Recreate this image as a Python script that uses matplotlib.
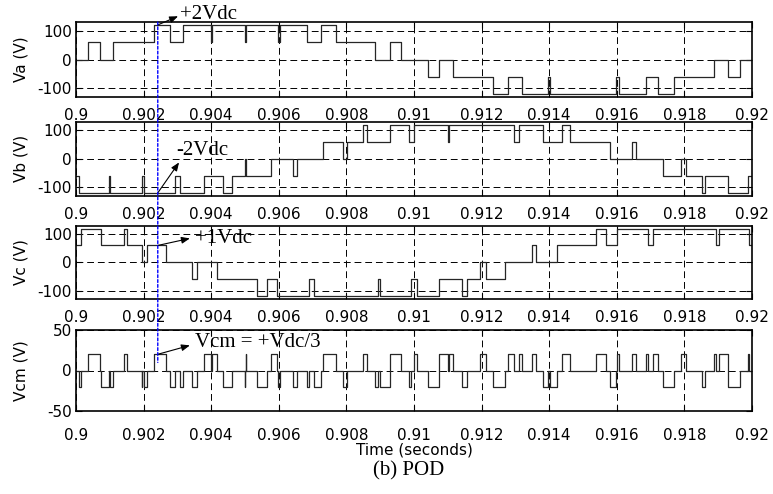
import matplotlib.pyplot as plt
from matplotlib.patches import ConnectionPatch

plt.rcParams['axes.unicode_minus'] = False

# phase voltages (s, V) -- step waveforms, value holds until next time
va_t = [0.90000, 0.90036, 0.90071, 0.90110, 0.90232, 0.90278, 0.90316, 0.90399, 0.90403, 0.90499,
        0.90502, 0.90599, 0.90604, 0.90684, 0.90725, 0.90768, 0.90885, 0.90929, 0.90961, 0.91041,
        0.91074, 0.91116, 0.91235, 0.91277, 0.91319, 0.91396, 0.91402, 0.91597, 0.91607, 0.91686,
        0.91723, 0.91769, 0.91889, 0.91930, 0.91965]
va_v = [0, 60, 0, 60, 120, 60, 120, 60, 120, 60,
        120, 60, 120, 60, 120, 60, 0, 60, 0, -60,
        0, -60, -120, -60, -120, -60, -120, -60, -120, -60,
        -120, -60, 0, -60, 0]

vb_t = [0.90000, 0.90010, 0.90098, 0.90102, 0.90196, 0.90200, 0.90293, 0.90308, 0.90379, 0.90434,
        0.90461, 0.90500, 0.90504, 0.90576, 0.90643, 0.90653, 0.90732, 0.90789, 0.90803, 0.90850,
        0.90860, 0.90929, 0.90986, 0.91000, 0.91100, 0.91104, 0.91297, 0.91312, 0.91383, 0.91437,
        0.91462, 0.91580, 0.91644, 0.91657, 0.91736, 0.91790, 0.91805, 0.91851, 0.91861, 0.91930,
        0.91989]
vb_v = [-60, -120, -60, -120, -60, -120, -60, -120, -60, -120,
        -60, 0, -60, 0, -60, 0, 60, 0, 60, 120,
        60, 120, 60, 120, 60, 120, 60, 120, 60, 120,
        60, 0, 60, 0, -60, 0, -60, -120, -60, -120,
        -60]

vc_t = [0.90000, 0.90014, 0.90073, 0.90142, 0.90150, 0.90194, 0.90211, 0.90265, 0.90344, 0.90357,
        0.90416, 0.90535, 0.90565, 0.90594, 0.90688, 0.90705, 0.90893, 0.90900, 0.90990, 0.91010,
        0.91075, 0.91141, 0.91156, 0.91195, 0.91212, 0.91270, 0.91350, 0.91360, 0.91422, 0.91538,
        0.91568, 0.91600, 0.91692, 0.91707, 0.91895, 0.91903, 0.91992]
vc_v = [60, 120, 60, 120, 60, 0, 60, 0, -60, 0,
        -60, -120, -60, -120, -60, -120, -60, -120, -60, -120,
        -60, -120, -60, 0, -60, 0, 60, 0, 60, 120,
        60, 120, 60, 120, 60, 120, 60]

vcm_t = [0.90000, 0.90010, 0.90014, 0.90036, 0.90071, 0.90073, 0.90098, 0.90102, 0.90110, 0.90142,
         0.90150, 0.90194, 0.90196, 0.90200, 0.90211, 0.90232, 0.90265, 0.90278, 0.90293, 0.90308,
         0.90316, 0.90344, 0.90357, 0.90379, 0.90399, 0.90403, 0.90416, 0.90434, 0.90461, 0.90499,
         0.90500, 0.90502, 0.90504, 0.90535, 0.90565, 0.90576, 0.90594, 0.90599, 0.90604, 0.90643,
         0.90653, 0.90684, 0.90688, 0.90705, 0.90725, 0.90732, 0.90768, 0.90789, 0.90803, 0.90850,
         0.90860, 0.90885, 0.90893, 0.90900, 0.90929, 0.90961, 0.90986, 0.90990, 0.91000, 0.91010,
         0.91041, 0.91074, 0.91075, 0.91100, 0.91104, 0.91116, 0.91141, 0.91156, 0.91195, 0.91212,
         0.91235, 0.91270, 0.91277, 0.91297, 0.91312, 0.91319, 0.91350, 0.91360, 0.91383, 0.91396,
         0.91402, 0.91422, 0.91437, 0.91462, 0.91538, 0.91568, 0.91580, 0.91597, 0.91600, 0.91607,
         0.91644, 0.91657, 0.91686, 0.91692, 0.91707, 0.91723, 0.91736, 0.91769, 0.91790, 0.91805,
         0.91851, 0.91861, 0.91889, 0.91895, 0.91903, 0.91930, 0.91965, 0.91989, 0.91992]
vcm_v = [0, -20, 0, 20, 0, -20, 0, -20, 0, 20,
         0, -20, 0, -20, 0, 20, 0, -20, 0, -20,
         0, -20, 0, 20, 0, 20, 0, -20, 0, -20,
         0, 20, 0, -20, 0, 20, 0, -20, 0, -20,
         0, -20, 0, -20, 0, 20, 0, -20, 0, 20,
         0, -20, 0, -20, 20, 0, -20, 0, 20, 0,
         -20, 0, 20, 0, 20, 0, -20, 0, 20, 0,
         -20, 0, 20, 0, 20, 0, 20, 0, -20, 0,
         -20, 0, 20, 0, 20, 0, -20, 0, 20, 0,
         20, 0, 20, 0, 20, 0, -20, 0, 20, 0,
         -20, 0, 20, 0, 20, -20, 0, 20, 0]

t_end = 0.92
xticks = [0.9, 0.902, 0.904, 0.906, 0.908, 0.91, 0.912, 0.914, 0.916, 0.918, 0.92]
xtick_labels = ['0.9', '0.902', '0.904', '0.906', '0.908', '0.91', '0.912', '0.914', '0.916', '0.918', '0.92']
ylabels = ['Va (V)', 'Vb (V)', 'Vc (V)', 'Vcm (V)']

# marked instant and annotations
t_mark = 0.90242
notes = [
    # text, arrow tail (t, v), arrow head (t, v), text pos (t, v)
    ('+2Vdc', (t_mark, 120), (0.90302, 150), (0.90307, 157)),
    ('-2Vdc', (t_mark, -120), (0.90305, -13), (0.90298, 28)),
    ('+1Vdc', (t_mark, 60), (0.90337, 85), (0.90352, 85)),
    ('Vcm = +Vdc/3', (t_mark, 20), (0.90337, 31), (0.90352, 35)),
]

fig = plt.figure(figsize=(7.73, 4.94), dpi=100)
rects = [
    [0.0983, 0.8036, 0.8745, 0.1518],
    [0.0983, 0.6038, 0.8745, 0.1498],
    [0.0983, 0.3947, 0.8745, 0.1484],
    [0.0983, 0.1680, 0.8745, 0.1640],
]
series = [(va_t, va_v), (vb_t, vb_v), (vc_t, vc_v), (vcm_t, vcm_v)]
axes = []
for i, (r, (t, v)) in enumerate(zip(rects, series)):
    ax = fig.add_axes(r)
    ax.step(list(t) + [t_end], list(v) + [v[-1]], where='post', color='0.15', lw=0.9)
    ax.set_xlim(0.9, 0.92)
    if i < 3:
        ax.set_ylim(-130, 130)
        ax.set_yticks([-100, 0, 100])
    else:
        ax.set_ylim(-50, 50)
        ax.set_yticks([-50, 0, 50])
    ax.set_xticks(xticks)
    ax.set_xticklabels(xtick_labels)
    ax.grid(True, color='k', linestyle=(0, (7, 4)), linewidth=0.7)
    ax.tick_params(direction='in', top=True, right=True, length=4, width=0.8,
                   labelsize=11, pad=8 if i < 3 else 12)
    ax.tick_params(axis='y', pad=3)
    for s in ax.spines.values():
        s.set_linewidth(1.2)
    ax.set_ylabel(ylabels[i], fontsize=11)
    ax.yaxis.set_label_coords(-0.07, 0.5)
    axes.append(ax)

# blue dashed marker across all panels
con = ConnectionPatch(xyA=(t_mark, 130), coordsA=axes[0].transData,
                      xyB=(t_mark, 10), coordsB=axes[3].transData,
                      color='blue', linestyle=(0, (2, 1.5)), lw=1.0)
fig.add_artist(con)

for ax, (txt, tail, head, pos) in zip(axes, notes):
    ax.annotate('', xy=head, xytext=tail, annotation_clip=False,
                arrowprops=dict(arrowstyle='-|>,head_length=0.5,head_width=0.2',
                                color='k', lw=0.8, shrinkA=0, shrinkB=0))
    ax.text(pos[0], pos[1], txt, fontsize=15, family='Liberation Serif',
            ha='left', va='center', clip_on=False)

fig.text(0.536, 1 - 450 / 494, 'Time (seconds)', ha='center', va='center', fontsize=11)
fig.text(0.528, 1 - 471 / 494, '(b) POD', ha='center', va='center', fontsize=15,
         family='Liberation Serif')

fig.savefig('out.png', dpi=100)
